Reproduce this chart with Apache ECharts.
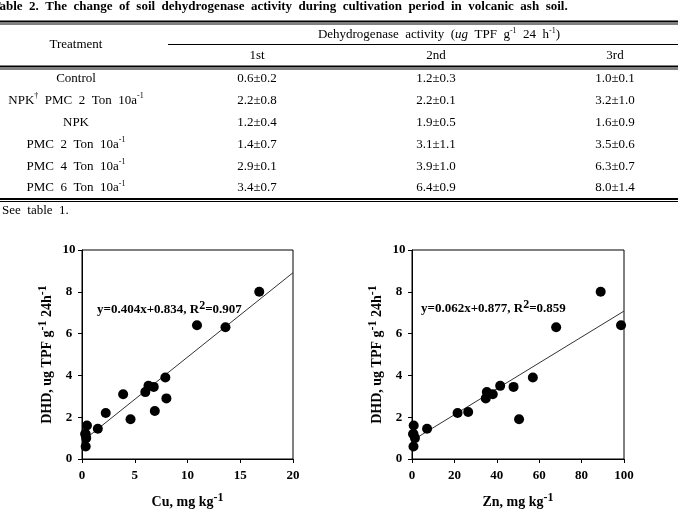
<!DOCTYPE html>
<html><head><meta charset="utf-8">
<script src="https://cdn.jsdelivr.net/npm/echarts@6/dist/echarts.min.js"></script>
<style>html,body{margin:0;padding:0;background:#fff}#c{width:678px;height:514px}</style>
</head><body><div id="c"></div>
<script>
// ---- data ----
const tableTitle = 'Table  2.  The  change  of  soil  dehydrogenase  activity  during  cultivation  period  in  volcanic  ash  soil.';
const headTreatment = 'Treatment';
const headActivity = 'Dehydrogenase  activity  ({i|ug}  TPF  g{s|-1}  24  h{s|-1})';
const periods = ['1st', '2nd', '3rd'];
const treatments = ['Control', 'NPK{s|†}  PMC  2  Ton  10a{s|-1}', 'NPK', 'PMC  2  Ton  10a{s|-1}', 'PMC  4  Ton  10a{s|-1}', 'PMC  6  Ton  10a{s|-1}'];
const act1st = ['0.6±0.2', '2.2±0.8', '1.2±0.4', '1.4±0.7', '2.9±0.1', '3.4±0.7'];
const act2nd = ['1.2±0.3', '2.2±0.1', '1.9±0.5', '3.1±1.1', '3.9±1.0', '6.4±0.9'];
const act3rd = ['1.0±0.1', '3.2±1.0', '1.6±0.9', '3.5±0.6', '6.3±0.7', '8.0±1.4'];
const footnote = 'See  table  1.';

const cuX = [0.47, 0.35, 0.4, 0.35, 0.3, 1.5, 2.25, 3.9, 4.6, 6.0, 6.3, 6.8, 6.9, 7.9, 8.0, 10.9, 13.6, 16.8];
const cuY = [1.6, 1.2, 1.0, 0.6, 1.2, 1.45, 2.2, 3.1, 1.9, 3.2, 3.5, 3.45, 2.3, 3.9, 2.9, 6.4, 6.3, 8.0];
const znX = [0.8, 0.7, 1.4, 0.7, 0.5, 7.1, 21.5, 26.5, 34.8, 35.3, 38.1, 41.6, 47.9, 50.5, 57, 68, 89, 98.6];
const znY = [1.6, 1.2, 1.0, 0.6, 1.2, 1.45, 2.2, 2.25, 2.9, 3.2, 3.1, 3.5, 3.45, 1.9, 3.9, 6.3, 8.0, 6.4];
const cuFitX = [0, 20], cuFitY = [0.834, 8.914];
const znFitX = [0, 100], znFitY = [0.877, 7.077];
const cuEq = 'y=0.404x+0.834, R{s|2}=0.907';
const znEq = 'y=0.062x+0.877, R{s|2}=0.859';
const cuName = 'Cu, mg kg{s|-1}';
const znName = 'Zn, mg kg{s|-1}';
const yName = 'DHD, ug TPF g{s|-1} 24h{s|-1}';

// ---- styles ----
const SERIF = '"Liberation Serif","Times New Roman",serif';
const tableRich = {
  s: { fontSize: 8, fontFamily: SERIF, verticalAlign: 'top', lineHeight: 9, fill: '#000' },
  i: { fontSize: 13, fontFamily: SERIF, fontStyle: 'italic', fill: '#000', lineHeight: 17 }
};
function txt(x, y, text, align, extra) {
  return { type: 'text', x: x, y: y, silent: true,
    style: Object.assign({ text: text, fill: '#000', font: '13px ' + SERIF, lineHeight: 17, align: align || 'center', verticalAlign: 'middle', rich: tableRich }, extra || {}) };
}
function hline(x1, x2, y, w) {
  return { type: 'line', silent: true, shape: { x1: x1, y1: y, x2: x2, y2: y }, style: { stroke: '#000', lineWidth: w } };
}
const colX = [257, 436, 615];
const g = [];
g.push({ type: 'text', x: -8, y: 7, silent: true, style: { text: tableTitle, fill: '#000', font: 'bold 13px ' + SERIF, align: 'left', verticalAlign: 'middle' } });
g.push(hline(0, 678, 21.5, 2), hline(0, 678, 24, 1));
g.push(txt(76, 45, headTreatment));
g.push(txt(439, 35, headActivity));
g.push(hline(168, 678, 44.5, 1));
periods.forEach((p, i) => g.push(txt(colX[i], 56, p)));
g.push(hline(0, 678, 66.5, 2), hline(0, 678, 69, 1));
const cols = [act1st, act2nd, act3rd];
treatments.forEach((t, r) => {
  const y = 79 + r * 21.8;
  g.push(txt(76, y, t));
  cols.forEach((c, i) => g.push(txt(colX[i], y, c[r])));
});
g.push(hline(0, 678, 199, 2), hline(0, 678, 201.5, 1));
g.push(txt(2, 211, footnote, 'left'));

const eqRich = { s: { fontSize: 12, fontWeight: 'bold', fontFamily: SERIF, verticalAlign: 'top', lineHeight: 10, fill: '#000' } };
g.push({ type: 'text', x: 97, y: 310, silent: true, style: { text: cuEq, fill: '#000', font: 'bold 13px ' + SERIF, lineHeight: 20, align: 'left', verticalAlign: 'middle', rich: eqRich } });
g.push({ type: 'text', x: 421, y: 309, silent: true, style: { text: znEq, fill: '#000', font: 'bold 13px ' + SERIF, lineHeight: 20, align: 'left', verticalAlign: 'middle', rich: eqRich } });

const nameRich = { s: { fontSize: 12, fontWeight: 'bold', fontFamily: SERIF, verticalAlign: 'top', lineHeight: 10, color: '#000' } };
function xAx(idx, max, interval, name) {
  return { gridIndex: idx, type: 'value', min: 0, max: max, interval: interval,
    name: name, nameLocation: 'middle', nameGap: 33,
    nameTextStyle: { color: '#000', fontFamily: SERIF, fontWeight: 'bold', fontSize: 14, lineHeight: 20, rich: nameRich },
    axisLine: { show: true, lineStyle: { color: '#000', width: 1 } },
    axisTick: { show: true, inside: false, length: 4, lineStyle: { color: '#000' } },
    axisLabel: { color: '#000', fontFamily: SERIF, fontWeight: 'bold', fontSize: 13, margin: 10 },
    splitLine: { show: false } };
}
function yAx(idx) {
  return { gridIndex: idx, type: 'value', min: 0, max: 10, interval: 2,
    name: yName, nameLocation: 'middle', nameGap: 25,
    nameTextStyle: { color: '#000', fontFamily: SERIF, fontWeight: 'bold', fontSize: 14, lineHeight: 20, rich: nameRich },
    axisLine: { show: true, lineStyle: { color: '#000', width: 1 } },
    axisTick: { show: true, inside: false, length: 4, lineStyle: { color: '#000' } },
    axisLabel: { color: '#000', fontFamily: SERIF, fontWeight: 'bold', fontSize: 13, margin: 13, align: 'center' },
    splitLine: { show: false } };
}
const zip = (a, b) => a.map((v, i) => [v, b[i]]);
const chart = echarts.init(document.getElementById('c'), null, { renderer: 'canvas' });
chart.setOption({
  backgroundColor: '#fff',
  animation: false,
  grid: [
    { left: 82, top: 250, width: 211, height: 209, show: true, borderColor: '#000', borderWidth: 1 },
    { left: 412, top: 250, width: 212, height: 209, show: true, borderColor: '#000', borderWidth: 1 }
  ],
  xAxis: [xAx(0, 20, 5, cuName), xAx(1, 100, 20, znName)],
  yAxis: [yAx(0), yAx(1)],
  series: [
    { type: 'line', xAxisIndex: 0, yAxisIndex: 0, data: zip(cuFitX, cuFitY), symbol: 'none', lineStyle: { color: '#333', width: 1 }, z: 1 },
    { type: 'scatter', xAxisIndex: 0, yAxisIndex: 0, data: zip(cuX, cuY), symbolSize: 10, itemStyle: { color: '#000', opacity: 1 }, z: 2 },
    { type: 'line', xAxisIndex: 1, yAxisIndex: 1, data: zip(znFitX, znFitY), symbol: 'none', lineStyle: { color: '#333', width: 1 }, z: 1 },
    { type: 'scatter', xAxisIndex: 1, yAxisIndex: 1, data: zip(znX, znY), symbolSize: 10, itemStyle: { color: '#000', opacity: 1 }, z: 2 }
  ],
  graphic: g
});
</script></body></html>
